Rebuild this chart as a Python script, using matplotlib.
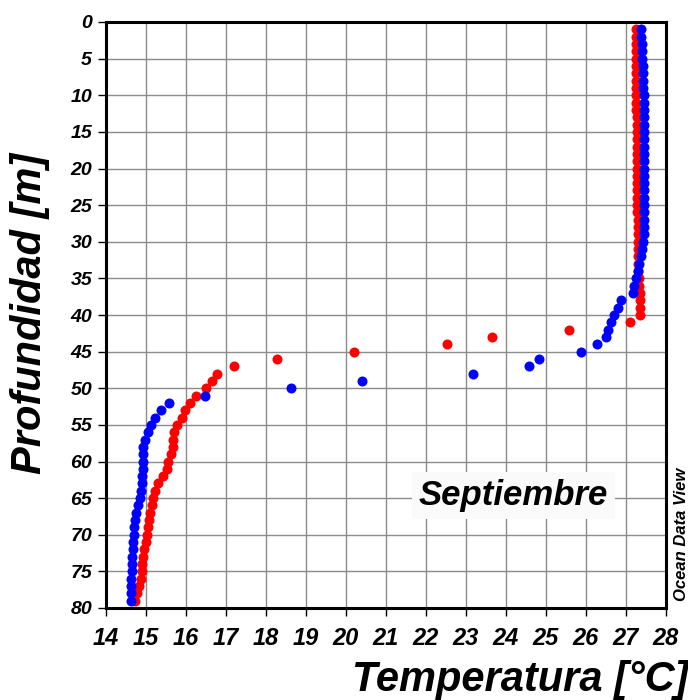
import matplotlib
matplotlib.use('Agg')
import matplotlib.pyplot as plt

# Perfiles de temperatura (Septiembre), profundidad 1..79 m
profundidad = list(range(1, 80))

temp_roja = [
    27.24, 27.24, 27.25, 27.25, 27.25, 27.25, 27.26, 27.26, 27.26, 27.26,
    27.26, 27.26, 27.27, 27.27, 27.27, 27.27, 27.27, 27.27, 27.27, 27.27,
    27.27, 27.28, 27.28, 27.28, 27.28, 27.28, 27.29, 27.29, 27.29, 27.29,
    27.30, 27.30, 27.31, 27.31, 27.32, 27.33, 27.34, 27.35, 27.35, 27.35,
    27.10, 25.58, 23.65, 22.52, 20.21, 18.28, 17.20, 16.77, 16.64, 16.50,
    16.25, 16.10, 15.97, 15.89, 15.77, 15.70, 15.68, 15.67, 15.62, 15.56,
    15.52, 15.42, 15.31, 15.22, 15.18, 15.14, 15.10, 15.08, 15.06, 15.02,
    14.99, 14.96, 14.92, 14.90, 14.89, 14.87, 14.83, 14.78, 14.72,
]

temp_azul = [
    27.37, 27.38, 27.39, 27.40, 27.41, 27.42, 27.42, 27.43, 27.43, 27.44,
    27.44, 27.44, 27.44, 27.45, 27.45, 27.45, 27.45, 27.45, 27.45, 27.45,
    27.45, 27.45, 27.45, 27.45, 27.45, 27.45, 27.45, 27.44, 27.44, 27.42,
    27.40, 27.37, 27.33, 27.29, 27.25, 27.21, 27.17, 26.87, 26.79, 26.71,
    26.63, 26.56, 26.49, 26.28, 25.88, 24.83, 24.57, 23.17, 20.40, 18.63,
    16.48, 15.58, 15.38, 15.23, 15.12, 15.06, 14.98, 14.93, 14.92, 14.92,
    14.92, 14.91, 14.91, 14.88, 14.85, 14.79, 14.75, 14.73, 14.71, 14.69,
    14.67, 14.67, 14.65, 14.64, 14.64, 14.62, 14.62, 14.62, 14.62,
]

x_ticks = list(range(14, 29))
y_ticks = list(range(0, 81, 5))

fig = plt.figure(figsize=(6.88, 7.0), dpi=100)
ax = fig.add_axes([106 / 688, 92 / 700, 560 / 688, 586 / 700])

ax.scatter(temp_roja, profundidad, s=52, color='#ff0000', linewidths=0, zorder=3)
ax.scatter(temp_azul, profundidad, s=52, color='#0000ff', linewidths=0, zorder=4)

ax.set_xlim(14, 28)
ax.set_ylim(80, 0)
ax.set_xticks(x_ticks)
ax.set_yticks(y_ticks)
ax.grid(True, color='#8c8c8c', linewidth=1.0, zorder=0)

for sp in ax.spines.values():
    sp.set_linewidth(2.2)
    sp.set_color('black')

ax.tick_params(axis='both', direction='out', length=6, width=1.0, color='black')
ax.tick_params(axis='x', pad=8)
ax.tick_params(axis='y', pad=4)

for lab in ax.get_xticklabels():
    lab.set_family('Liberation Sans')
    lab.set_fontweight('bold')
    lab.set_fontstyle('italic')
    lab.set_fontsize(17)
for lab in ax.get_yticklabels():
    lab.set_family('Liberation Sans')
    lab.set_fontweight('heavy')
    lab.set_fontstyle('italic')
    lab.set_fontsize(14)

fig.text(352 / 688, 0.028, 'Temperatura [°C]', family='Liberation Sans',
         fontsize=30, fontweight='bold', fontstyle='italic', ha='left', va='center')
fig.text(30 / 688, 1 - 313 / 700, 'Profundidad [m]', family='Liberation Sans',
         fontsize=30, fontweight='bold', fontstyle='italic', rotation=90,
         ha='center', va='center')

ax.text(24.18, 64.6, 'Septiembre', family='Liberation Sans', fontsize=25,
        fontweight='bold', fontstyle='italic', ha='center', va='center', zorder=5,
        bbox=dict(boxstyle='square,pad=0.2', facecolor='#fafafa', edgecolor='none'))

fig.text(681 / 688, 1 - 534 / 700, 'Ocean Data View', family='Liberation Sans',
         fontsize=12, fontweight='bold', fontstyle='italic', rotation=90,
         ha='center', va='center')

fig.savefig('out.png', dpi=100)
